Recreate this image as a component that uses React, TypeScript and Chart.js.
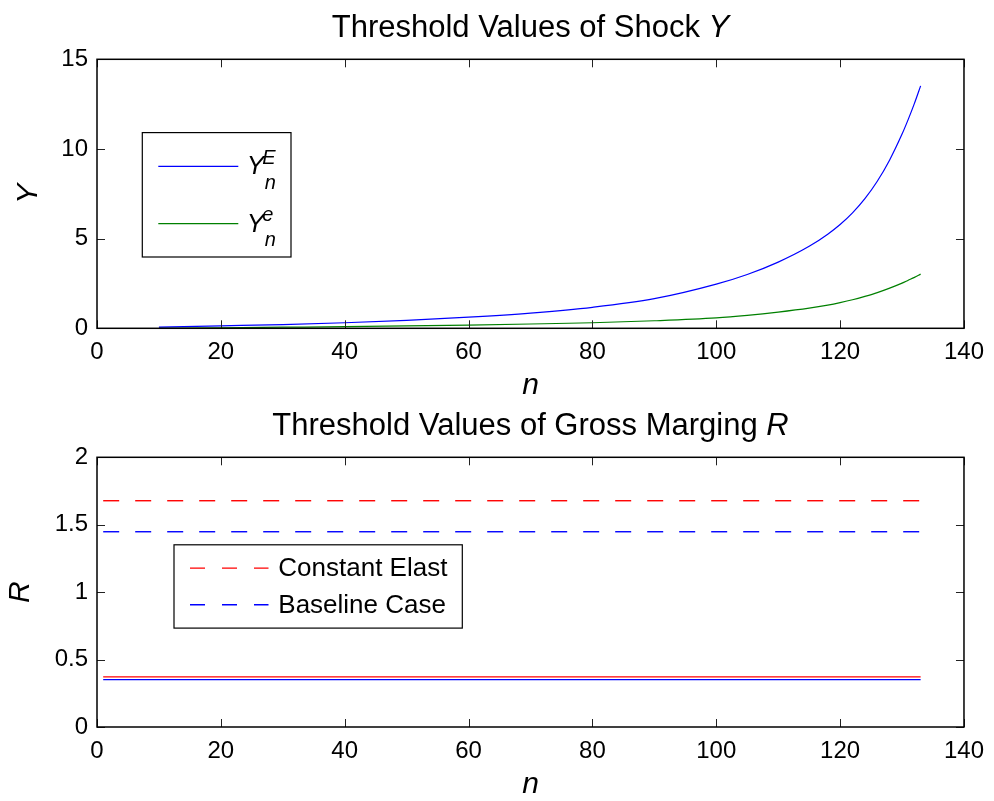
import React, { useEffect, useRef } from "react";
import { Chart, registerables } from "chart.js";

Chart.register(...registerables);

const FONT = '"Liberation Sans", Arial, Helvetica, sans-serif';

// ---------- data: top panel ----------
const topN = [10, 20, 30, 40, 50, 60, 70, 80, 90, 100, 105, 110, 115, 118, 120, 122, 124, 126, 128, 130, 131, 132, 133];
const yUpperE = [0.07, 0.14, 0.21, 0.31, 0.44, 0.62, 0.85, 1.17, 1.65, 2.46, 3.0, 3.69, 4.57, 5.25, 5.79, 6.44, 7.23, 8.2, 9.39, 10.83, 11.65, 12.54, 13.52];
const yLowerE = [0.01, 0.03, 0.06, 0.09, 0.13, 0.18, 0.24, 0.31, 0.42, 0.58, 0.72, 0.9, 1.12, 1.29, 1.43, 1.59, 1.78, 1.99, 2.24, 2.52, 2.68, 2.84, 3.02];
const topXTicks = [0, 20, 40, 60, 80, 100, 120, 140];
const topYTicks = [0, 5, 10, 15];
const topTitle = ["Threshold Values of Shock ", "Y"];
const topLegend = [
  { base: "Y", sup: "E", sub: "n" },
  { base: "Y", sup: "e", sub: "n" },
];

// ---------- data: bottom panel ----------
const botN = [1, 133];
const rConstElastDashed = [1.678, 1.678];
const rBaselineDashed = [1.448, 1.448];
const rConstElastSolid = [0.371, 0.371];
const rBaselineSolid = [0.352, 0.352];
const botXTicks = [0, 20, 40, 60, 80, 100, 120, 140];
const botYTicks = [0, 0.5, 1, 1.5, 2];
const botTitle = ["Threshold Values of Gross Marging ", "R"];
const botLegend = ["Constant Elast", "Baseline Case"];

const pts = (xs: number[], ys: number[]) => xs.map((x, i) => ({ x, y: ys[i] }));

function framePlugin() {
  return {
    id: "frame",
    afterDatasetsDraw(chart: any) {
      const { ctx, chartArea: a, scales } = chart;
      const x = scales.x, y = scales.y;
      ctx.save();
      ctx.strokeStyle = "#222";
      ctx.lineWidth = 1;
      ctx.beginPath();
      x.ticks.forEach((t: any) => {
        const p = Math.round(x.getPixelForValue(t.value)) + 0.5;
        ctx.moveTo(p, a.bottom); ctx.lineTo(p, a.bottom - 8);
        ctx.moveTo(p, a.top); ctx.lineTo(p, a.top + 8);
      });
      y.ticks.forEach((t: any) => {
        const p = Math.round(y.getPixelForValue(t.value)) + 0.5;
        ctx.moveTo(a.left, p); ctx.lineTo(a.left + 8, p);
        ctx.moveTo(a.right, p); ctx.lineTo(a.right - 8, p);
      });
      ctx.stroke();
      ctx.strokeStyle = "#000";
      ctx.lineWidth = 1.5;
      ctx.strokeRect(a.left, a.top, a.right - a.left, a.bottom - a.top);
      ctx.restore();
    },
  };
}

function titlePlugin(parts: string[]) {
  return {
    id: "mtitle",
    afterDraw(chart: any) {
      const { ctx, chartArea: a } = chart;
      ctx.save();
      const f1 = `31px ${FONT}`;
      const f2 = `italic 31px ${FONT}`;
      ctx.font = f1;
      const w1 = ctx.measureText(parts[0]).width;
      ctx.font = f2;
      const w2 = ctx.measureText(parts[1]).width;
      const cx = (a.left + a.right) / 2;
      const x0 = cx - (w1 + w2) / 2;
      const yb = a.top - 22;
      ctx.fillStyle = "#000";
      ctx.textAlign = "left";
      ctx.textBaseline = "alphabetic";
      ctx.font = f1;
      ctx.fillText(parts[0], x0, yb);
      ctx.font = f2;
      ctx.fillText(parts[1], x0 + w1, yb);
      ctx.restore();
    },
  };
}

function topLegendPlugin() {
  return {
    id: "topLegend",
    afterDraw(chart: any) {
      const { ctx, chartArea: a } = chart;
      const bx = a.left + 45.3, by = a.top + 73.3, bw = 148.7, bh = 124.4;
      ctx.save();
      ctx.fillStyle = "#fff";
      ctx.fillRect(bx, by, bw, bh);
      ctx.strokeStyle = "#000";
      ctx.lineWidth = 1.2;
      ctx.strokeRect(bx, by, bw, bh);
      chart.data.datasets.forEach((ds: any, i: number) => {
        const ly = by + 33.7 + i * 57.3;
        ctx.strokeStyle = ds.borderColor;
        ctx.lineWidth = 1.2;
        ctx.beginPath();
        ctx.moveTo(bx + 16, ly);
        ctx.lineTo(bx + 96, ly);
        ctx.stroke();
        const lab = topLegend[i];
        const tx = bx + 104.4;
        ctx.fillStyle = "#000";
        ctx.textAlign = "left";
        ctx.textBaseline = "alphabetic";
        ctx.font = `italic 26px ${FONT}`;
        ctx.fillText(lab.base, tx, ly + 8);
        ctx.font = `italic 20px ${FONT}`;
        ctx.fillText(lab.sup, tx + 15.5, ly - 2.5);
        ctx.fillText(lab.sub, tx + 18, ly + 22.5);
      });
      ctx.restore();
    },
  };
}

function botLegendPlugin() {
  return {
    id: "botLegend",
    afterDraw(chart: any) {
      const { ctx, chartArea: a } = chart;
      const bx = a.left + 77, by = a.top + 87.5, bw = 288.3, bh = 83.3;
      ctx.save();
      ctx.fillStyle = "#fff";
      ctx.fillRect(bx, by, bw, bh);
      ctx.strokeStyle = "#000";
      ctx.lineWidth = 1.2;
      ctx.strokeRect(bx, by, bw, bh);
      botLegend.forEach((txt, i) => {
        const ds = chart.data.datasets[i];
        const ly = by + 23.3 + i * 36.7;
        ctx.strokeStyle = ds.borderColor;
        ctx.lineWidth = 1.4;
        ctx.setLineDash([15, 17]);
        ctx.beginPath();
        ctx.moveTo(bx + 16, ly);
        ctx.lineTo(bx + 94.5, ly);
        ctx.stroke();
        ctx.setLineDash([]);
        ctx.fillStyle = "#000";
        ctx.textAlign = "left";
        ctx.textBaseline = "middle";
        ctx.font = `26px ${FONT}`;
        ctx.fillText(txt, bx + 104.3, ly + 1);
      });
      ctx.restore();
    },
  };
}

function scaleOpts(
  ticks: number[],
  min: number,
  max: number,
  title: string,
  isX: boolean,
  size: number,
  titlePad: number,
  tickPad: number
) {
  return {
    type: "linear" as const,
    min,
    max,
    afterBuildTicks: (s: any) => {
      s.ticks = ticks.map((v) => ({ value: v }));
    },
    afterFit: (s: any) => {
      if (isX) s.height = size;
      else s.width = size;
    },
    grid: { display: false, drawTicks: false },
    border: { display: false },
    ticks: {
      autoSkip: false,
      maxRotation: 0,
      padding: tickPad,
      color: "#000",
      font: { family: FONT, size: 24 },
      callback: (v: any) => String(v),
    },
    title: {
      display: true,
      text: title,
      color: "#000",
      font: { family: FONT, size: 30, style: "italic" as const, lineHeight: 1 },
      padding: isX ? { top: 0, bottom: titlePad } : { top: titlePad, bottom: 0 },
    },
  };
}

export default function App() {
  const topRef = useRef<HTMLCanvasElement>(null);
  const botRef = useRef<HTMLCanvasElement>(null);

  useEffect(() => {
    const c1 = new Chart(topRef.current as HTMLCanvasElement, {
      type: "line",
      data: {
        datasets: [
          {
            label: "Y_n^E",
            data: pts(topN, yUpperE),
            borderColor: "#0000ff",
            borderWidth: 1.2,
            pointRadius: 0,
            cubicInterpolationMode: "monotone",
          },
          {
            label: "Y_n^e",
            data: pts(topN, yLowerE),
            borderColor: "#008000",
            borderWidth: 1.2,
            pointRadius: 0,
            cubicInterpolationMode: "monotone",
          },
        ],
      },
      options: {
        animation: false,
        responsive: false,
        maintainAspectRatio: false,
        layout: { padding: { left: 0, right: 28, top: 59.3, bottom: 0 } },
        plugins: { legend: { display: false }, title: { display: false }, tooltip: { enabled: false } },
        scales: {
          x: scaleOpts(topXTicks, 0, 140, "n", true, 91.7, 19, 10),
          y: scaleOpts(topYTicks, 0, 15, "Y", false, 97, 14, 9),
        },
      },
      plugins: [framePlugin(), titlePlugin(topTitle), topLegendPlugin()],
    } as any);

    const c2 = new Chart(botRef.current as HTMLCanvasElement, {
      type: "line",
      data: {
        datasets: [
          {
            label: "Constant Elast",
            data: pts(botN, rConstElastDashed),
            borderColor: "#ff0000",
            borderWidth: 1.4,
            borderDash: [16, 16],
            pointRadius: 0,
          },
          {
            label: "Baseline Case",
            data: pts(botN, rBaselineDashed),
            borderColor: "#0000ff",
            borderWidth: 1.4,
            borderDash: [16, 16],
            pointRadius: 0,
          },
          {
            label: "Constant Elast (solid)",
            data: pts(botN, rConstElastSolid),
            borderColor: "#ff0000",
            borderWidth: 1.3,
            pointRadius: 0,
          },
          {
            label: "Baseline Case (solid)",
            data: pts(botN, rBaselineSolid),
            borderColor: "#0000ff",
            borderWidth: 1.3,
            pointRadius: 0,
          },
        ],
      },
      options: {
        animation: false,
        responsive: false,
        maintainAspectRatio: false,
        layout: { padding: { left: 0, right: 28, top: 57.3, bottom: 0 } },
        plugins: { legend: { display: false }, title: { display: false }, tooltip: { enabled: false } },
        scales: {
          x: scaleOpts(botXTicks, 0, 140, "n", true, 74, 1, 10),
          y: scaleOpts(botYTicks, 0, 2, "R", false, 97, 6, 9),
        },
      },
      plugins: [framePlugin(), titlePlugin(botTitle), botLegendPlugin()],
    } as any);

    return () => {
      c1.destroy();
      c2.destroy();
    };
  }, []);

  return (
    <div
      style={{
        position: "absolute",
        left: 0,
        top: 0,
        width: 994,
        height: 801,
        background: "#fff",
        overflow: "hidden",
      }}
    >
      <canvas
        ref={topRef}
        width={994}
        height={420}
        style={{ position: "absolute", left: 0, top: 0, width: 994, height: 420 }}
      />
      <canvas
        ref={botRef}
        width={994}
        height={401}
        style={{ position: "absolute", left: 0, top: 400, width: 994, height: 401 }}
      />
    </div>
  );
}
